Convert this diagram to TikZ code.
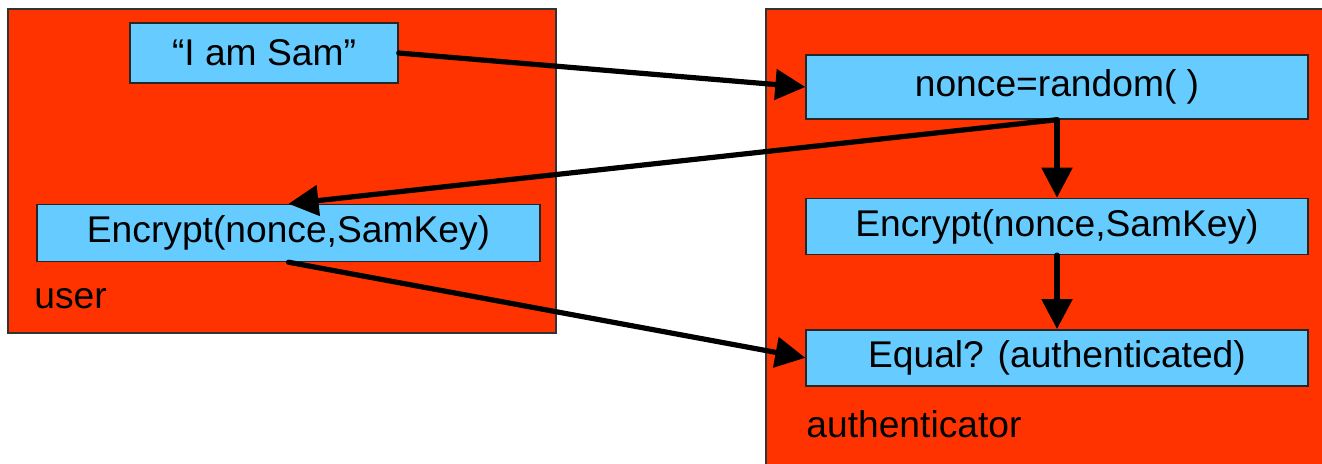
\documentclass[tikz,border=0pt]{standalone}
\usepackage{fontspec}
\setmainfont{Liberation Sans}
\usetikzlibrary{arrows.meta,positioning}
\definecolor{framered}{RGB}{255,51,0}
\definecolor{stepblue}{RGB}{102,204,255}

\begin{document}
\begin{tikzpicture}[x=0.5pt,y=-0.5pt,>={Triangle[length=15pt,width=15pt]},
                    frame/.style={draw=black!80,line width=0.7pt,fill=framered},
                    party/.style={anchor=base west,inner sep=0pt,font=\fontsize{18.6}{22}\selectfont},
                    stepbox/.style={rectangle,draw=black!85,line width=0.7pt,fill=stepblue,
                      inner sep=0pt,minimum width=251pt,minimum height=28pt,
                      font=\fontsize{18.6}{22}\selectfont},
                    msg/.style={->,line width=2.6pt,line cap=round}]
  \useasboundingbox (0,0) rectangle (1322,463);
  % the two parties
  \draw[frame] (8,9) rectangle (556,333);
  \draw[frame] (766,9) rectangle (1340,480);
  \node[party] (userlbl) at (34,308) {user};
  \node[party] (authlbl) at (806,437) {authenticator};
  % steps
  \node[stepbox,minimum width=134pt,minimum height=30pt] (sam) at (264,53) {“I am Sam”};
  \node[stepbox,minimum width=251.5pt,minimum height=28.5pt] (encL) at (288.5,233) {Encrypt(nonce,SamKey)};
  \node[stepbox,minimum height=32pt] (nonce) at (1057,87) {nonce=random( )};
  \node[stepbox] (encR) [below=39pt of nonce] {Encrypt(nonce,SamKey)};
  \node[stepbox] (equal) [below=37pt of encR] {Equal? (authenticated)};
  % messages
  \draw[msg] (sam.east) -- (nonce.west);
  \draw[msg] (nonce.south) -- (encL.north);
  \draw[msg] (nonce.south) -- (encR.north);
  \draw[msg] (encR.south) -- (equal.north);
  \draw[msg] (encL.south) -- (equal.west);
\end{tikzpicture}
\end{document}
